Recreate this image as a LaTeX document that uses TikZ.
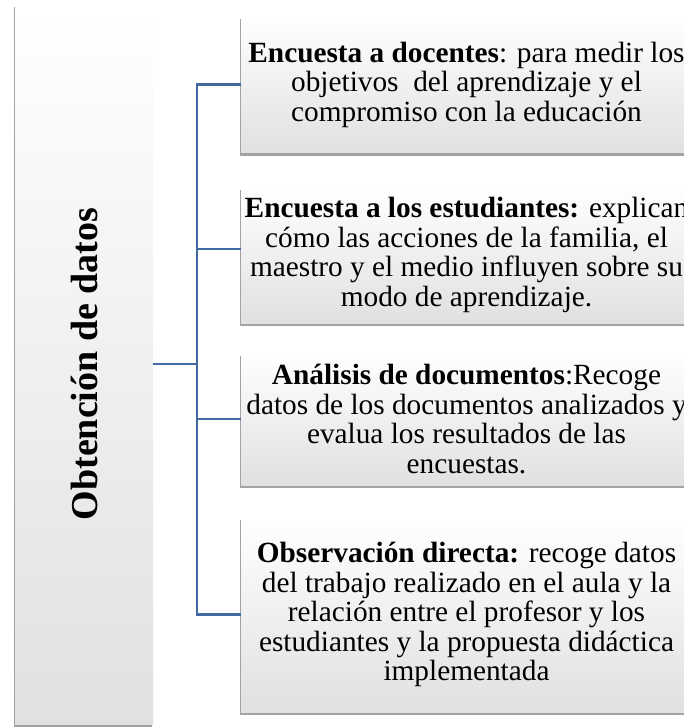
\documentclass[tikz,border=0pt]{standalone}
\usepackage{fontspec}
\setmainfont{Liberation Serif}
\usetikzlibrary{positioning,shadows}
\definecolor{wireblue}{RGB}{64,106,160}
\tikzset{
	box/.style={top color=white, bottom color=black!12, inner sep=0pt, outer sep=0pt,
		drop shadow={shadow xshift=-1pt, shadow yshift=-3pt, opacity=.6, fill=black!60}},
	root/.style={box, minimum width=138pt, minimum height=720pt},
	title/.style={font=\fontsize{38}{44}\selectfont\bfseries},
	leaf/.style={box, minimum width=451pt, align=center,
		font=\fontsize{29.3}{29.5}\selectfont},
	wire/.style={draw=wireblue, line width=2.2pt}
}

\begin{document}
\begin{tikzpicture}[x=1pt,y=-1pt]
	\useasboundingbox (0,0) rectangle (684,727);
	\clip (0,0) rectangle (684,727);
	\node[root, label={[title,rotate=90]center:Obtención de datos}] (src) at (84,364) {};
	\node[leaf, minimum height=137pt] (b1) at (466.5,84.5)
		{\textbf{Encuesta a docentes}: para medir los\\ objetivos~ del aprendizaje y el\\ compromiso con la educación};
	\node[leaf, minimum height=136pt, below=34pt of b1] (b2)
		{\textbf{Encuesta a los estudiantes:} explican\\ cómo las acciones de la familia, el\\ maestro y el medio influyen sobre su\\ modo de aprendizaje.};
	\node[leaf, minimum height=132pt, below=30pt of b2] (b3)
		{\textbf{Análisis de documentos}:Recoge\\ datos de los documentos analizados y\\ evalua los resultados de las\\ encuestas.};
	\node[leaf, minimum height=195pt, below=32pt of b3] (b4)
		{\textbf{Observación directa:} recoge datos\\ del trabajo realizado en el aula y la\\ relación entre el profesor y los\\ estudiantes y la propuesta didáctica\\ implementada};
	% tree lines
	\coordinate (trunk) at (197,364);
	\draw[wire] (src.east) -- (trunk);
	\draw[wire] (b1.west) -| (trunk) |- (b4.west);
	\draw[wire] (trunk) |- ([yshift=6pt]b2.west);
	\draw[wire] (trunk) |- (b3.west);
\end{tikzpicture}
\end{document}
